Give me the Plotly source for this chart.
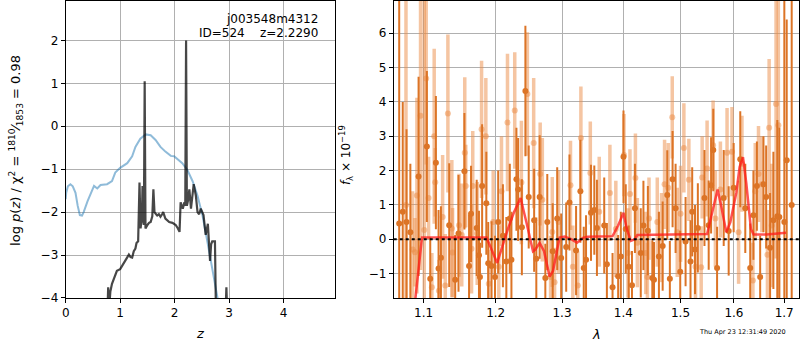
import plotly.graph_objects as go
import numpy as np

# ---------------- left panel: p(z) ----------------
z_chi = [0.0, 0.01, 0.04, 0.086, 0.13, 0.18, 0.22, 0.26, 0.30, 0.33, 0.40, 0.45, 0.52, 0.58,
         0.64, 0.76, 0.85, 0.91, 1.0, 1.13, 1.22, 1.28, 1.37, 1.47, 1.56, 1.65, 1.74, 1.83,
         1.93, 1.99, 2.05, 2.14, 2.23, 2.33, 2.42, 2.51, 2.6, 2.69, 2.79, 2.85, 3.0]
chi_val = [-1.70, -1.55, -1.40, -1.35, -1.40, -1.55, -1.85, -2.07, -2.08, -2.0, -1.75, -1.58,
           -1.39, -1.45, -1.37, -1.35, -1.28, -1.08, -0.97, -0.86, -0.70, -0.48, -0.29, -0.19,
           -0.21, -0.32, -0.48, -0.59, -0.69, -0.70, -0.77, -0.86, -1.01, -1.28, -1.62, -2.07,
           -2.68, -3.29, -4.0, -4.5, -5.5]

z_pz = [0.76, 0.78, 0.795, 0.82, 0.85, 0.88, 0.91, 0.94, 1.0, 1.04, 1.07, 1.10, 1.13, 1.16,
        1.19, 1.22, 1.25, 1.28, 1.30, 1.33, 1.355, 1.375, 1.40, 1.41, 1.425, 1.435, 1.45,
        1.465, 1.50, 1.53, 1.56, 1.59, 1.61, 1.63, 1.66, 1.68, 1.71, 1.74, 1.77, 1.79, 1.83,
        1.87, 1.90, 1.96, 2.02, 2.06, 2.09, 2.11, 2.15, 2.18, 2.195, 2.21, 2.225, 2.25, 2.27,
        2.30, 2.35, 2.39, 2.42, 2.45, 2.48, 2.53, 2.57, 2.61, 2.65, 2.67, 2.69, 2.74, 2.76,
        2.93, 2.95, 2.97]
pz_val = [-4.6, -3.75, -4.3, -3.85, -3.67, -3.56, -3.45, -3.37, -3.33, -3.25, -3.18, -3.12,
          -3.06, -2.99, -3.05, -3.06, -2.91, -2.85, -2.72, -2.68, -1.31, -2.38, -2.1, -1.39,
          -2.2, -2.3, 1.05, -2.38, -2.3, -2.25, -2.23, -2.1, -1.47, -2.0, -2.05, -2.08, -2.05,
          -2.11, -2.05, -2.0, -2.15, -2.2, -2.23, -2.25, -2.3, -2.38, -2.46, -1.77, -1.92,
          -1.77, -1.85, 2.0, -1.85, -1.7, -1.47, -1.92, -1.35, -1.62, -2.0, -2.05, -1.92,
          -2.07, -2.53, -2.27, -3.14, -2.75, -2.68, -2.68, -4.5, -4.5, -3.75, -4.5]

# ---------------- right panel: spectrum ----------------
wave_d = [1.068, 1.0726, 1.0775, 1.0825, 1.0933, 1.1043, 1.1088, 1.1164, 1.12, 1.1232, 1.1345,
          1.1427, 1.1473, 1.1555, 1.162, 1.1648, 1.1728, 1.176, 1.1774, 1.1805, 1.1865, 1.1892,
          1.194, 1.199, 1.2036, 1.2105, 1.2155, 1.2206, 1.223, 1.2304, 1.2329, 1.2385, 1.2438,
          1.2488, 1.257, 1.2603, 1.2654, 1.2741, 1.2771, 1.2855, 1.2925, 1.2987, 1.3066,
          1.3118, 1.3223, 1.3292, 1.3346, 1.3383, 1.3463, 1.3517, 1.356, 1.368, 1.3724,
          1.3818, 1.3912, 1.3957, 1.4002, 1.404, 1.409, 1.4146, 1.4197, 1.4297, 1.4343, 1.442,
          1.4498, 1.4527, 1.4614, 1.468, 1.4762, 1.4808, 1.4857, 1.4911, 1.4995, 1.5092,
          1.5182, 1.5213, 1.5265, 1.5317, 1.544, 1.5519, 1.5564, 1.5605, 1.5677, 1.5803,
          1.5898, 1.5994, 1.6122, 1.622, 1.6317, 1.638, 1.6449, 1.6514, 1.658, 1.6634, 1.6713,
          1.678, 1.686, 1.6901, 1.7003, 1.7052, 1.7155]
flux_d = [0.46, 0.8, 0.5, 0.2, 1.83, 2.7, -1.15, 2.23, -0.85, -0.54, 0.41, -1.18, 0.17, 1.98,
          -0.78, 0.74, 0.33, -0.47, -1.1, 1.55, 1.05, -0.7, -0.78, -1.1, 0.5, 0.1, -0.65, 0.6,
          -0.6, 1.75, 1.45, 0.35, 4.32, 1.23, 0.55, -0.57, 1.23, -1.13, 0.5, -0.35, 0.6, -0.55,
          -0.23, 1.07, -0.33, 1.4, -0.84, -0.6, 0.77, 0.85, 0.33, 0.4, -0.73, -1.4, -1.08,
          -0.5, 2.4, 0.3, -0.8, -1.34, 0.9, -0.4, 0.4, 0.25, -1.13, -1.18, -0.5, -0.2, 1.29,
          -1.15, 1.75, 0.9, -0.95, -0.07, -0.65, 0.8, -0.3, 0.33, 1.2, 0.41, 1.57, 2.6, -0.84,
          1.2, 0.24, 1.5, 2.33, 0.9, -0.84, 0.7, 1.55, -1.1, 1.6, 1.23, -0.25, 0.55, 0.67,
          0.65, 0.5, 2.3, 1.0]
err_d = [6.5, 3.2, 2.7, 2.0, 2.9, 2.2, 1.2, 1.94, 1.7, 1.5, 1.8, 1.3, 1.7, 1.7, 1.5, 1.4, 1.4,
         1.3, 1.0, 1.8, 1.5, 1.2, 1.3, 1.2, 1.5, 1.5, 1.3, 1.6, 1.4, 1.5, 1.5, 1.4, 1.9, 1.5,
         1.5, 1.2, 1.8, 1.0, 1.4, 1.4, 1.5, 1.3, 1.3, 1.4, 1.3, 1.5, 1.2, 1.3, 1.4, 1.3, 1.4,
         1.4, 1.2, 1.0, 1.2, 1.3, 1.35, 1.3, 1.2, 1.0, 1.3, 1.3, 1.3, 1.3, 1.1, 1.1, 1.3, 1.3,
         1.3, 1.1, 1.4, 1.3, 1.2, 1.3, 1.2, 1.3, 1.3, 1.3, 1.4, 1.3, 1.4, 1.2, 1.2, 1.4, 1.3,
         1.3, 1.4, 1.3, 1.3, 1.3, 1.3, 1.2, 1.4, 1.5, 1.6, 2.0, 2.8, 2.6, 7.0, 4.1, 7.0]

wave_l = [1.0768, 1.0855, 1.0885, 1.0911, 1.0959, 1.1008, 1.1034, 1.1066, 1.111, 1.1141,
          1.1155, 1.1205, 1.1255, 1.1291, 1.1327, 1.1381, 1.1391, 1.148, 1.1518, 1.156, 1.1574,
          1.1655, 1.1672, 1.1735, 1.1797, 1.1858, 1.19, 1.1964, 1.2045, 1.2084, 1.2172, 1.2279,
          1.2378, 1.2468, 1.2563, 1.2662, 1.2695, 1.2822, 1.2848, 1.2884, 1.2946, 1.3134,
          1.3171, 1.325, 1.33, 1.3452, 1.3598, 1.3774, 1.3873, 1.401, 1.4078, 1.4112, 1.4205,
          1.4238, 1.4383, 1.4412, 1.444, 1.4585, 1.4661, 1.4714, 1.4779, 1.4851, 1.4941,
          1.5001, 1.5061, 1.5152, 1.5274, 1.5379, 1.5397, 1.5489, 1.5602, 1.5645, 1.574,
          1.5867, 1.5962, 1.609, 1.6155, 1.637, 1.6416, 1.6481, 1.6548, 1.666, 1.6694, 1.6747,
          1.6834, 1.6881]
flux_l = [1.0, -0.3, -0.38, 1.27, 3.6, 0.27, 4.68, 1.2, -1.4, 3.0, 1.66, -1.5, 0.65, -1.35,
          3.66, 0.31, -0.39, 0.41, 0.12, 2.52, 1.55, -0.28, 1.55, 0.17, 3.2, 3.0, -1.3, 0.5,
          -0.8, 1.4, 3.4, 3.75, 1.65, 4.23, 2.8, 1.9, 1.15, -1.1, 0.21, -1.25, 0.5, 1.57, -0.8,
          -1.35, 2.95, 1.93, 0.8, 1.35, 0.3, 2.45, -0.4, 1.32, 1.78, -0.1, -0.4, -1.1, 0.6,
          0.5, 0.05, 1.6, 1.5, 3.55, 0.2, 0.74, 2.66, 1.73, -0.8, -0.82, 1.8, 2.06, 2.74, 0.6,
          1.45, 2.52, 2.55, 0.2, 2.2, -1.2, 1.4, 1.9, 1.6, -0.45, 3.25, 0.4, 3.94, 3.32]
err_l = [6.0, 1.7, 1.0, 2.85, 4.5, 6.7, 2.5, 1.2, 1.0, 2.55, 1.0, 0.9, 1.8, 1.5, 2.3, 2.0, 1.3,
         1.5, 1.5, 2.2, 1.2, 1.3, 1.6, 1.5, 2.0, 1.7, 1.0, 1.5, 1.2, 1.6, 2.0, 1.7, 1.8, 1.8,
         1.9, 1.5, 1.8, 1.2, 1.6, 1.0, 1.5, 1.3, 1.2, 1.0, 1.5, 1.5, 1.6, 1.4, 1.4, 1.2, 1.3,
         1.3, 1.3, 1.3, 1.2, 1.0, 1.2, 1.3, 1.3, 1.3, 1.3, 1.2, 1.3, 1.4, 1.3, 1.2, 1.2, 1.2,
         1.2, 1.4, 1.3, 1.4, 1.4, 1.3, 1.3, 1.5, 1.4, 1.1, 1.4, 1.4, 1.4, 1.3, 2.0, 1.8, 4.5,
         5.0]

wave_model = [1.089, 1.0978, 1.1400, 1.1868, 1.2021, 1.2180, 1.2269, 1.2366, 1.2452, 1.2553,
              1.2588, 1.2654, 1.2721, 1.2807, 1.2860, 1.2962, 1.3041, 1.3144, 1.3239, 1.3330,
              1.3410, 1.3818, 1.3912, 1.4002, 1.4057, 1.4126, 1.4195, 1.4238, 1.5489, 1.5582,
              1.5687, 1.5751, 1.5853, 1.5930, 1.6045, 1.6109, 1.6175, 1.6240, 1.6331, 1.6383,
              1.6647, 1.7038]
flux_model = [-1.75, 0.05, 0.05, 0.05, -0.69, 0.31, 0.79, 1.2, 0.5, -0.35, -0.3, -0.11, -0.35,
              -1.09, -0.92, 0.05, 0.08, 0.0, -0.1, 0.04, 0.07, 0.09, 0.4, 0.77, 0.3, -0.05, 0.0,
              0.12, 0.15, 0.75, 1.45, 1.0, 0.2, 0.5, 1.35, 2.1, 2.39, 1.63, 0.3, 0.14, 0.14,
              0.19]

x_ticks_right = [1.1, 1.2, 1.3, 1.4, 1.5, 1.6, 1.7]

FONT = "DejaVu Sans"
DARK = "#dc7426"
LIGHT = "rgba(236,140,70,0.5)"

fig = go.Figure()

fig.add_trace(go.Scatter(x=z_chi, y=chi_val, mode="lines",
                         line=dict(color="rgba(31,119,180,0.5)", width=2),
                         xaxis="x", yaxis="y", showlegend=False))
fig.add_trace(go.Scatter(x=z_pz, y=pz_val, mode="lines",
                         line=dict(color="rgba(0,0,0,0.72)", width=2.2),
                         xaxis="x", yaxis="y", showlegend=False))

fig.add_trace(go.Scatter(x=wave_l, y=flux_l, mode="markers",
                         marker=dict(color=LIGHT, size=6),
                         error_y=dict(type="data", array=err_l, thickness=3.5, width=0, color=LIGHT),
                         xaxis="x2", yaxis="y2", showlegend=False))
fig.add_trace(go.Scatter(x=wave_d, y=flux_d, mode="markers",
                         marker=dict(color=DARK, size=6),
                         error_y=dict(type="data", array=err_d, thickness=2, width=0, color=DARK),
                         xaxis="x2", yaxis="y2", showlegend=False))
fig.add_trace(go.Scatter(x=wave_model, y=flux_model, mode="lines",
                         line=dict(color="rgba(255,25,25,0.75)", width=2.5),
                         xaxis="x2", yaxis="y2", showlegend=False))

fig.add_shape(type="line", xref="x2 domain", yref="y2", x0=0, x1=1, y0=0, y1=0,
              line=dict(color="black", width=2, dash="dot"), layer="above")

ydom = [46 / 350, 349 / 350]
axis_common = dict(showgrid=True, gridcolor="#b0b0b0", gridwidth=1, zeroline=False,
                   showline=True, linecolor="black", linewidth=1, mirror=True,
                   ticks="outside", ticklen=4, tickcolor="black",
                   tickfont=dict(family=FONT, size=12, color="black"))

fig.update_layout(
    width=800, height=350, autosize=False,
    margin=dict(l=0, r=0, t=0, b=0),
    paper_bgcolor="white", plot_bgcolor="white",
    font=dict(family=FONT, size=12, color="black"),
    xaxis=dict(domain=[62 / 800, 333 / 800], range=[0, 4.95], tickvals=[0, 1, 2, 3, 4],
               anchor="y", **axis_common),
    yaxis=dict(domain=ydom, range=[-4, 2.92], tickvals=[-4, -3, -2, -1, 0, 1, 2],
               anchor="x", **axis_common),
    xaxis2=dict(domain=[391.7 / 800, 799 / 800], type="log",
                range=[np.log10(1.061), np.log10(1.7307)],
                tickvals=x_ticks_right, ticktext=[f"{v:.1f}" for v in x_ticks_right],
                anchor="y2", **axis_common),
    yaxis2=dict(domain=ydom, range=[-1.71, 6.94], tickvals=[-1, 0, 1, 2, 3, 4, 5, 6],
                anchor="x2", **axis_common),
)

ann = [
    dict(text="j003548m4312", x=318 / 800, y=1 - 19.5 / 350, xanchor="right", yanchor="middle",
         font=dict(size=12)),
    dict(text="ID=524\u00a0\u00a0\u00a0\u00a0z=2.2290", x=318 / 800, y=1 - 34 / 350,
         xanchor="right", yanchor="middle", font=dict(size=12)),
    dict(text="<i>z</i>", x=197 / 800, y=1 - 340 / 350, xanchor="center", yanchor="middle",
         font=dict(size=13)),
    dict(text="<i>λ</i>", x=595 / 800, y=1 - 341 / 350, xanchor="center", yanchor="middle",
         font=dict(size=13)),
    dict(text="log <i>p</i>(<i>z</i>) / χ<sup>2</sup> = <sup>1810</sup>⁄<sub>1853</sub> = 0.98",
         x=12 / 800, y=1 - 153 / 350, textangle=-90, xanchor="center", yanchor="middle",
         font=dict(size=13)),
    dict(text="<i>f</i><sub>λ</sub> × 10<sup>−19</sup>", x=344 / 800, y=1 - 158 / 350,
         textangle=-90, xanchor="center", yanchor="middle", font=dict(size=12)),
    dict(text="Thu Apr 23 12:31:49 2020", x=742 / 800, y=1 - 339 / 350, xanchor="center",
         yanchor="middle", font=dict(size=6.5)),
]
for a in ann:
    a.update(xref="paper", yref="paper", showarrow=False)
    fig.add_annotation(**a)

fig.write_html("out.html", config={"displayModeBar": False},
               post_script="document.body.style.margin='0';document.body.style.overflow='hidden';")
